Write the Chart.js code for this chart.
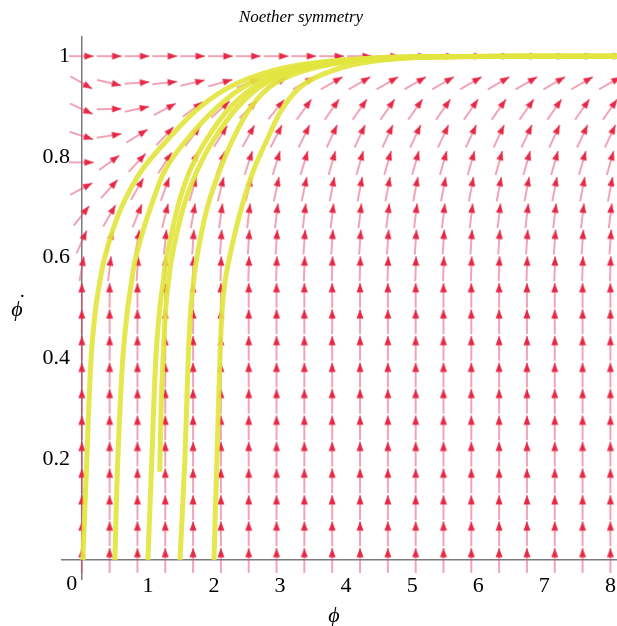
<!DOCTYPE html>
<html>
<head>
<meta charset="utf-8">
<script src="https://cdn.jsdelivr.net/npm/chart.js@4.4.1/dist/chart.umd.min.js"></script>
<style>
  html, body { margin: 0; padding: 0; background: #fff; }
  #wrap { width: 617px; height: 626px; }
</style>
</head>
<body>
<div id="wrap"><canvas id="chart"></canvas></div>
<script>
// --- data ---
// field grid (20 x 20 arrows)
const fieldCols = [0, 0.421, 0.842, 1.263, 1.684, 2.105, 2.526, 2.947, 3.368, 3.789,
                   4.211, 4.632, 5.053, 5.474, 5.895, 6.316, 6.737, 7.158, 7.579, 8];
const fieldRows = [0, 0.053, 0.105, 0.158, 0.211, 0.263, 0.316, 0.368, 0.421, 0.474,
                   0.526, 0.579, 0.632, 0.684, 0.737, 0.789, 0.842, 0.895, 0.947, 1];

// arrow direction in degrees (0 = right, 90 = up), top rows only, listed from phi-dot = 1 down
const angles100 = [0, 0, 0, 0, 0, 0, 0, 0, 0, 0, 0, 0, 0, 0, 0, 0, 0, 0, 0, 0];
const angles095 = [-30, -13, 4, 6, 13, 16, 22, 28, 30, 30, 30, 30, 30, 30, 30, 30, 30, 30, 30, 30];
const angles089 = [-25, 1, 12, 28, 37, 42, 45, 51, 54, 55, 55, 55, 55, 55, 55, 55, 55, 55, 55, 55];
const angles084 = [-18, 9, 32, 47, 53, 58, 61, 63, 64, 65, 65, 65, 65, 65, 65, 65, 65, 65, 65, 65];
const angles079 = [0, 36, 47, 57, 65, 70, 72, 73, 73, 74, 74, 74, 74, 74, 74, 74, 74, 74, 74, 74];
const angles074 = [28, 48, 60, 70, 74, 76, 77, 78, 78, 79, 79, 79, 79, 79, 79, 79, 79, 79, 79, 79];
const angles068 = [52, 60, 68, 76, 80, 82, 83, 83, 83, 83, 83, 83, 83, 83, 83, 83, 83, 83, 83, 83];
const angles063 = [66, 73, 80, 84, 86, 86, 86, 86, 86, 86, 86, 86, 86, 86, 86, 86, 86, 86, 86, 86];
const angles058 = [80, 83, 86, 88, 88, 88, 88, 88, 88, 88, 88, 88, 88, 88, 88, 88, 88, 88, 88, 88];
const tiltedRows = [angles100, angles095, angles089, angles084, angles079,
                    angles074, angles068, angles063, angles058];
const lowerAngle = 90; // every arrow below is straight up

// trajectories [phi, phi-dot]
const curveA = [[0.015, 0], [0.076, 0.2], [0.14, 0.4], [0.21, 0.5], [0.27, 0.55], [0.33, 0.591],
                [0.47, 0.655], [0.65, 0.714], [0.91, 0.774], [1.29, 0.833], [1.79, 0.899],
                [2.35, 0.946], [3.1, 0.978], [4.0, 0.993], [5.0, 0.999], [8.1, 1]];
const curveB = [[0.5, 0], [0.545, 0.2], [0.62, 0.4], [0.695, 0.5], [0.75, 0.55], [0.8, 0.591],
                [0.93, 0.655], [1.08, 0.714], [1.26, 0.774], [1.58, 0.833], [2.05, 0.899],
                [2.55, 0.946], [3.25, 0.978], [4.1, 0.993], [5.1, 0.999], [8.1, 1]];
const curveC = [[1.0, 0], [1.06, 0.2], [1.12, 0.4], [1.18, 0.5], [1.23, 0.55], [1.27, 0.591],
                [1.37, 0.655], [1.48, 0.714], [1.64, 0.774], [1.88, 0.833], [2.25, 0.899],
                [2.7, 0.946], [3.35, 0.978], [4.2, 0.993], [5.2, 0.999], [8.1, 1]];
const curveF = [[1.18, 0.175], [1.2, 0.3], [1.23, 0.4], [1.27, 0.5], [1.31, 0.55], [1.35, 0.591],
                [1.45, 0.655], [1.57, 0.714], [1.75, 0.774], [1.99, 0.833], [2.36, 0.899],
                [2.78, 0.946], [3.42, 0.978], [4.25, 0.993], [5.25, 0.999], [8.1, 1]];
const curveD = [[1.485, 0], [1.56, 0.2], [1.61, 0.4], [1.65, 0.5], [1.69, 0.55], [1.73, 0.591],
                [1.82, 0.655], [1.93, 0.714], [2.09, 0.774], [2.28, 0.833], [2.56, 0.899],
                [2.92, 0.946], [3.55, 0.978], [4.35, 0.993], [5.3, 0.999], [8.1, 1]];
const curveE = [[2.0, 0], [2.045, 0.2], [2.09, 0.4], [2.125, 0.5], [2.165, 0.55], [2.22, 0.591],
                [2.33, 0.655], [2.45, 0.714], [2.6, 0.774], [2.8, 0.833], [3.05, 0.899],
                [3.38, 0.946], [3.95, 0.978], [4.6, 0.993], [5.5, 0.999], [8.1, 1]];
const curves = [curveA, curveB, curveC, curveF, curveD, curveE];

const xTicksStep = 1;
const yTicksStep = 0.2;
const yLabelColumn = -0.18; // phi value where the y tick labels end

// --- arrow sprite (points right, centre of the sprite = grid point) ---
function makeArrow() {
    const cv = document.createElement('canvas');
    cv.width = 32; cv.height = 32;
    const g = cv.getContext('2d');
    g.strokeStyle = 'rgba(228, 78, 110, 0.85)';
    g.lineWidth = 1.2;
    g.beginPath(); g.moveTo(3, 16); g.lineTo(28, 16); g.stroke();
    g.fillStyle = 'rgb(230, 40, 70)';
    g.beginPath(); g.moveTo(28, 16); g.lineTo(18.5, 12.5); g.lineTo(18.5, 19.5); g.closePath(); g.fill();
    return cv;
}
const arrowImg = makeArrow();

const fieldPoints = [];
const fieldRotation = [];
fieldRows.forEach((y, r) => {
    const top = fieldRows.length - 1 - r;
    const row = top < tiltedRows.length ? tiltedRows[top] : null;
    fieldCols.forEach((x, c) => {
        fieldPoints.push({ x, y });
        fieldRotation.push(-(row ? row[c] : lowerAngle));
    });
});

const serif = "'Liberation Serif', 'DejaVu Serif', serif";
const axisGrey = '#7a7a7a';

// title, axis names and the shared origin label
const axisText = {
    id: 'axisText',
    afterDraw(chart) {
        const { ctx, scales } = chart;
        ctx.save();
        ctx.fillStyle = '#000';
        ctx.textAlign = 'center';
        ctx.textBaseline = 'middle';
        ctx.font = `italic 17px ${serif}`;
        ctx.fillText('Noether symmetry', 301, 18);
        ctx.font = `22px ${serif}`;
        ctx.fillText('0', scales.x.getPixelForValue(0) - 10, scales.y.getPixelForValue(0) + 24);
        ctx.font = `italic 22px ${serif}`;
        ctx.fillText('\u03D5', 334, 616);
        ctx.fillText('\u03D5', 17, 310);
        ctx.textBaseline = 'alphabetic';
        ctx.fillText('\u02D9', 21, 309);
        ctx.restore();
    }
};

const datasets = curves.map(c => ({
    type: 'line',
    data: c.map(p => ({ x: p[0], y: p[1] })),
    borderColor: 'rgba(226, 229, 62, 0.92)',
    borderWidth: 5,
    pointRadius: 0,
    tension: 0.35,
    fill: false,
    clip: false,
    order: 0
}));
datasets.push({
    type: 'scatter',
    data: fieldPoints,
    pointStyle: arrowImg,
    pointRadius: 12,
    pointRotation: fieldRotation,
    clip: false,
    order: 1
});

new Chart(document.getElementById('chart'), {
    type: 'scatter',
    data: { datasets },
    options: {
        responsive: true,
        maintainAspectRatio: false,
        animation: false,
        events: [],
        layout: { autoPadding: false, padding: { left: 62, right: 0, top: 36, bottom: 46 } },
        plugins: {
            legend: { display: false },
            tooltip: { enabled: false },
            title: { display: false }
        },
        scales: {
            x: {
                type: 'linear',
                min: -0.3, max: 8.1,
                position: { y: 0 },
                border: { color: axisGrey, width: 1.5 },
                grid: {
                    drawOnChartArea: true, drawTicks: false, tickLength: 0, lineWidth: 1.5,
                    color: c => (c.tick && c.tick.value === 0 ? axisGrey : 'rgba(0,0,0,0)')
                },
                ticks: {
                    stepSize: xTicksStep, includeBounds: false, color: '#000', padding: 13,
                    font: { family: serif, size: 22 },
                    callback: v => (v === 0 ? '' : String(v))
                },
                afterFit: s => { s.paddingLeft = 0; s.paddingRight = 0; }
            },
            y: {
                type: 'linear',
                min: -0.04, max: 1.04,
                position: { x: yLabelColumn },
                border: { display: false },
                grid: { display: false, drawTicks: false },
                ticks: {
                    stepSize: yTicksStep, includeBounds: false, color: '#000', padding: 0,
                    font: { family: serif, size: 22 },
                    callback: v => (Math.abs(v) < 1e-9 ? '' : String(+v.toFixed(1)))
                },
                afterFit: s => { s.paddingTop = 0; s.paddingBottom = 0; }
            }
        }
    },
    plugins: [axisText]
});
</script>
</body>
</html>
